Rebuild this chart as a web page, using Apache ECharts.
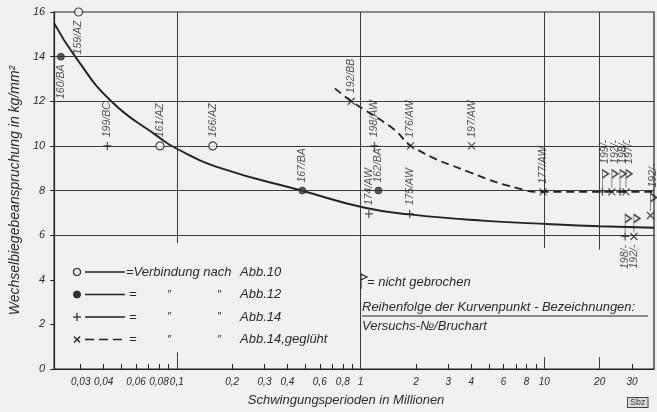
<!DOCTYPE html>
<html><head><meta charset="utf-8">
<script src="https://cdn.jsdelivr.net/npm/echarts@6/dist/echarts.min.js"></script>
<style>html,body{margin:0;padding:0;background:#f1f1ef}#c{width:657px;height:412px}</style>
</head><body><div id="c"></div>
<script>
// ---------- data ----------
const xTickLabels = [0.03,0.04,0.06,0.08,0.1,0.2,0.3,0.4,0.6,0.8,1,2,3,4,6,8,10,20,30];
const xTicks = [0.03,0.04,0.05,0.06,0.07,0.08,0.09,0.1,0.2,0.3,0.4,0.5,0.6,0.7,0.8,0.9,1,2,3,4,5,6,7,8,9,10,20,30];
const yTicks = [0,2,4,6,8,10,12,14,16];
// [x (Mio.), stress kg/mm², label, label side]
const openCircle = [[0.0292,16,'159/AZ','below'],[0.081,10,'161/AZ','above'],[0.157,10,'166/AZ','above']];
const filledCircle = [[0.0234,14,'160/BA','below'],[0.482,8,'167/BA','above'],[1.25,8,'162/BA','above']];
const plusPts = [[0.0419,10,'199/BC','above'],[1.19,10,'198/AW','above'],[1.11,6.95,'174/AW','above'],[1.85,6.95,'175/AW','above'],[20.7,7.94,'199/-','above'],[25.8,7.94,'198/-','above'],[27.5,5.94,'198/-','below']];
const crossPts = [[0.89,12,'192/BB','above'],[1.87,10,'176/AW','above'],[4.02,10,'197/AW','above'],[9.84,7.94,'177/AW','above'],[23.3,7.94,'192/-','above'],[27.8,7.94,'197/-','above'],[30.7,5.94,'192/-','below'],[37.8,6.88,'192/-','above']];
const solidCurve = [[0.0215,15.5],[0.028,14.0],[0.044,12.0],[0.0777,10.46],[0.1,9.87],[0.177,8.98],[0.476,8.0],[1.04,7.24],[1.85,6.93],[4.79,6.64],[10.9,6.49],[20,6.4],[39.5,6.33]];
const dashedCurve = [[0.725,12.58],[0.89,12.0],[1.51,10.76],[1.93,9.94],[3.89,8.83],[7.22,8.09],[9.84,7.94],[20,7.94],[39.5,7.94]];
const hGrid = [6,8,10,12,14];
const vGrid = [[0.1,16,5.64],[0.1,0.75,0],[1,16,0],[10,16,5.42],[10,0.53,0],[20,16,5.35],[20,0.53,0]];
const xRange = [0.0215, 39.5];

// ---------- styling ----------
const ink = '#222';
const txt = '#2a2a2a';
const bg = '#f1f1ef';
const FONT = 'Liberation Sans';
const labelFont = {fontFamily: FONT, fontStyle: 'italic', fontSize: 10.5, color: txt};
const isUnbroken = n => /\/-$/.test(n);

function ptLabel(text, below, dist) {
  return Object.assign({show: true, formatter: text, rotate: 90, verticalAlign: 'middle', distance: dist || 4},
    below ? {position: 'bottom', align: 'right'} : {position: 'top', align: 'left'}, labelFont);
}
function items(arr) {
  return arr.map(([x, y, n, side]) => ({
    value: [x, y],
    label: (isUnbroken(n) && side !== 'below') ? {show: false} : ptLabel(n, side === 'below')
  }));
}
const flagItems = plusPts.concat(crossPts).filter(p => isUnbroken(p[2])).map(([x, y, n, side]) => ({
  value: [x, y],
  label: side === 'below' ? {show: false} : ptLabel(n, false, 5)
}));

const PLUS = 'path://M0,5L10,5M5,0L5,10';
const CROSS = 'path://M0,0L10,10M10,0L0,10';
const FLAG = 'path://M0,18L0,0L6,4L0,8';

const markData = [];
hGrid.forEach(v => markData.push([{coord: [xRange[0], v]}, {coord: [xRange[1], v]}]));
vGrid.forEach(([x, a, b]) => markData.push([{coord: [x, a]}, {coord: [x, b]}]));

// ---------- legend graphics ----------
const gfx = [];
const lx = 77, lineA = 85, lineB = 125;
const rows = [272, 294.5, 317, 339.5];
const tStyle = (s, x, y, size, extra) => ({type: 'text', x, y, silent: true,
  style: Object.assign({text: s, fill: txt, font: `italic ${size}px "${FONT}"`, textVerticalAlign: 'middle'}, extra || {})});
gfx.push({type: 'circle', shape: {cx: lx, cy: rows[0], r: 3.5}, style: {fill: bg, stroke: ink, lineWidth: 1.2}});
gfx.push({type: 'circle', shape: {cx: lx, cy: rows[1], r: 3.5}, style: {fill: '#333', stroke: ink, lineWidth: 1}});
gfx.push({type: 'polyline', shape: {points: [[lx - 4, rows[2]], [lx + 4, rows[2]]]}, style: {stroke: ink, lineWidth: 1.2}});
gfx.push({type: 'polyline', shape: {points: [[lx, rows[2] - 4], [lx, rows[2] + 4]]}, style: {stroke: ink, lineWidth: 1.2}});
gfx.push({type: 'polyline', shape: {points: [[lx - 3, rows[3] - 3], [lx + 3, rows[3] + 3]]}, style: {stroke: ink, lineWidth: 1.2}});
gfx.push({type: 'polyline', shape: {points: [[lx + 3, rows[3] - 3], [lx - 3, rows[3] + 3]]}, style: {stroke: ink, lineWidth: 1.2}});
rows.forEach((y, i) => {
  gfx.push({type: 'line', shape: {x1: lineA, y1: y, x2: lineB, y2: y},
    style: {stroke: ink, lineWidth: 1.6, lineDash: i === 3 ? [9, 5] : null}});
});
gfx.push(tStyle('=Verbindung nach', 126, rows[0], 13));
const abb = ['Abb.10', 'Abb.12', 'Abb.14', 'Abb.14,geglüht'];
abb.forEach((a, i) => gfx.push(tStyle(a, 240, rows[i], 13)));
[1, 2, 3].forEach(i => {
  gfx.push(tStyle('=', 129, rows[i], 13));
  gfx.push(tStyle('\u2033', 167, rows[i], 11));
  gfx.push(tStyle('\u2033', 217, rows[i], 11));
});
// right notes
gfx.push({type: 'polyline', shape: {points: [[361, 289], [361, 274], [367, 277], [361, 280]]}, style: {stroke: ink, lineWidth: 1.1, fill: null}});
gfx.push(tStyle('= nicht gebrochen', 367, 282, 13));
gfx.push(tStyle('Reihenfolge der Kurvenpunkt - Bezeichnungen:', 362, 307, 13));
gfx.push({type: 'line', shape: {x1: 362, y1: 316, x2: 648, y2: 316}, style: {stroke: ink, lineWidth: 1}});
gfx.push(tStyle('Versuchs-\u2116/Bruchart', 362, 326, 13));
gfx.push({type: 'text', x: 628, y: 398, style: {text: 'Sbz', fill: '#333', font: `9px "${FONT}"`,
  backgroundColor: '#ddd', borderColor: '#444', borderWidth: 1, padding: [0, 2, 0, 2]}});

const option = {
  animation: false,
  backgroundColor: bg,
  grid: {left: 46, top: 12, width: 608, height: 360, show: true, borderColor: ink, borderWidth: 1.2, backgroundColor: 'transparent'},
  xAxis: {
    type: 'log', logBase: 10, min: xRange[0], max: xRange[1],
    name: 'Schwingungsperioden in Millionen', nameLocation: 'middle', nameGap: 25,
    nameTextStyle: {fontFamily: FONT, fontStyle: 'italic', fontSize: 13, color: txt, padding: [0, 16, 0, 0]},
    axisLine: {show: true, lineStyle: {color: ink, width: 1.2}},
    axisTick: {show: true, inside: true, length: 5, customValues: xTicks, lineStyle: {color: ink, width: 1}},
    axisLabel: {customValues: xTickLabels, margin: 8, fontFamily: FONT, fontStyle: 'italic', fontSize: 10, color: txt,
      formatter: v => String(+(+v).toPrecision(3)).replace('.', ',')},
    splitLine: {show: false}, minorTick: {show: false}
  },
  yAxis: {
    type: 'value', min: 0, max: 16, interval: 2,
    name: 'Wechselbiegebeanspruchung in kg/mm\u00b2', nameLocation: 'middle', nameGap: 32, nameRotate: 90,
    nameTextStyle: {fontFamily: FONT, fontStyle: 'italic', fontSize: 14, color: txt},
    axisLine: {show: true, lineStyle: {color: ink, width: 1.2}},
    axisTick: {show: true, inside: false, length: 4, lineStyle: {color: ink}},
    axisLabel: {margin: 9, fontFamily: FONT, fontStyle: 'italic', fontSize: 11, color: txt,
      customValues: yTicks},
    splitLine: {show: false}
  },
  graphic: gfx,
  series: [
    {type: 'line', data: [], silent: true, z: 1,
      markLine: {silent: true, symbol: ['none', 'none'], label: {show: false}, animation: false,
        lineStyle: {color: '#3a3a3a', width: 1, type: 'solid'}, emphasis: {disabled: true}, data: markData}},
    {type: 'line', data: solidCurve, showSymbol: false, smooth: 0.5, z: 3,
      lineStyle: {color: ink, width: 1.9}, silent: true},
    {type: 'line', data: dashedCurve, showSymbol: false, smooth: 0.5, z: 3,
      lineStyle: {color: ink, width: 1.8, type: [8, 5]}, silent: true},
    {type: 'scatter', data: items(openCircle), symbol: 'circle', symbolSize: 8, z: 5,
      itemStyle: {color: bg, borderColor: ink, borderWidth: 1.2}},
    {type: 'scatter', data: items(filledCircle), symbol: 'circle', symbolSize: 7, z: 5,
      itemStyle: {color: '#333', borderColor: ink, borderWidth: 0.8}},
    {type: 'scatter', data: items(plusPts), symbol: PLUS, symbolSize: 8, z: 5,
      itemStyle: {color: 'rgba(0,0,0,0)', borderColor: ink, borderWidth: 1.2}},
    {type: 'scatter', data: items(crossPts), symbol: CROSS, symbolSize: 7, z: 5,
      itemStyle: {color: 'rgba(0,0,0,0)', borderColor: ink, borderWidth: 1.2}},
    {type: 'scatter', data: flagItems, symbol: FLAG, symbolSize: [6, 18], symbolOffset: [3, -13], z: 5,
      itemStyle: {color: 'rgba(0,0,0,0)', borderColor: ink, borderWidth: 1.1}}
  ]
};
const chart = echarts.init(document.getElementById('c'));
chart.setOption(option);
</script>
</body></html>
